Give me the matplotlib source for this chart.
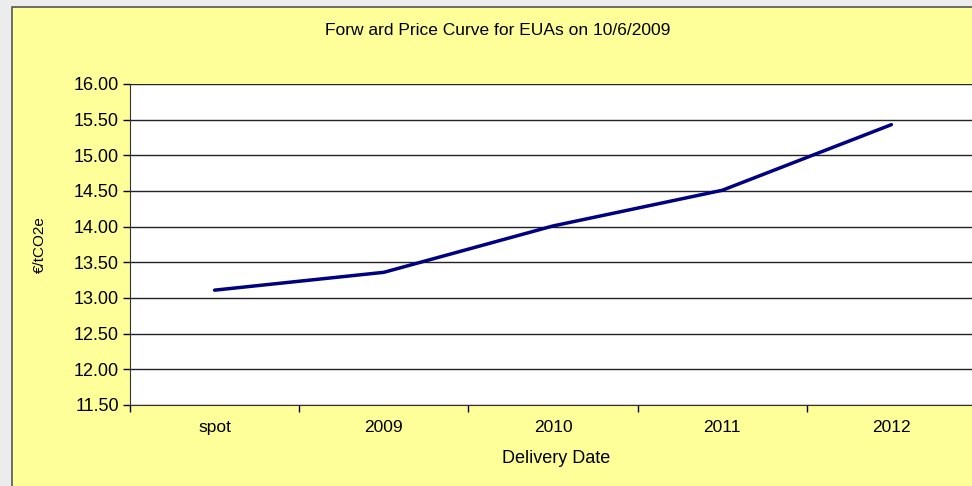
import matplotlib.pyplot as plt
from matplotlib.patches import Rectangle
import numpy as np

plt.rcParams['font.family'] = ['Liberation Sans', 'DejaVu Sans']

categories = ['spot', '2009', '2010', '2011', '2012']
prices = [13.11, 13.36, 14.01, 14.51, 15.43]
yticks = [11.5, 12.0, 12.5, 13.0, 13.5, 14.0, 14.5, 15.0, 15.5, 16.0]

W, H = 972, 486
fig = plt.figure(figsize=(W / 100, H / 100), dpi=100, facecolor='#ECECEC')

# yellow chart panel with border, kept behind the axes
fig.patches.append(Rectangle((12 / W, -0.05), 1.0, 1 - 7 / H + 0.05,
                             transform=fig.transFigure, facecolor='#FFFF99',
                             edgecolor='#555555', linewidth=1.2, zorder=-10))

left, right = 130 / W, 976 / W
top, bottom = 1 - 84 / H, 1 - 405 / H
ax = fig.add_axes([left, bottom, right - left, top - bottom])
ax.set_facecolor('white')

x = np.arange(len(categories))
ax.plot(x, prices, color='#000080', linewidth=2.5, solid_capstyle='round', zorder=3)

ax.set_xlim(-0.5, len(categories) - 0.5)
ax.set_ylim(11.5, 16.0)
ax.set_yticks(yticks)
ax.set_yticklabels(['%.2f' % v for v in yticks], fontsize=13)
ax.set_xticks(x)
ax.set_xticklabels(categories, fontsize=12.5)
ax.set_xticks(np.arange(-0.5, len(categories)), minor=True)
ax.tick_params(axis='x', which='major', length=0, pad=11)
ax.tick_params(axis='x', which='minor', length=5, width=1, direction='out')
ax.tick_params(axis='y', length=5, width=1, direction='out', pad=3)

ax.grid(axis='y', color='#222222', linewidth=1)
for s in ['top', 'right']:
    ax.spines[s].set_visible(False)
ax.spines['left'].set_color('#333333')
ax.spines['bottom'].set_color('#333333')

fig.text(498 / W, 1 - 30 / H, 'Forw ard Price Curve for EUAs on 10/6/2009',
         ha='center', va='center', fontsize=12.5)
fig.text(40 / W, 1 - 245 / H, '€/tCO2e', rotation=90, ha='center',
         va='center', fontsize=11)
fig.text(556 / W, 1 - 458 / H, 'Delivery Date', ha='center', va='center',
         fontsize=13)

fig.savefig('out.png', dpi=100, facecolor=fig.get_facecolor())
